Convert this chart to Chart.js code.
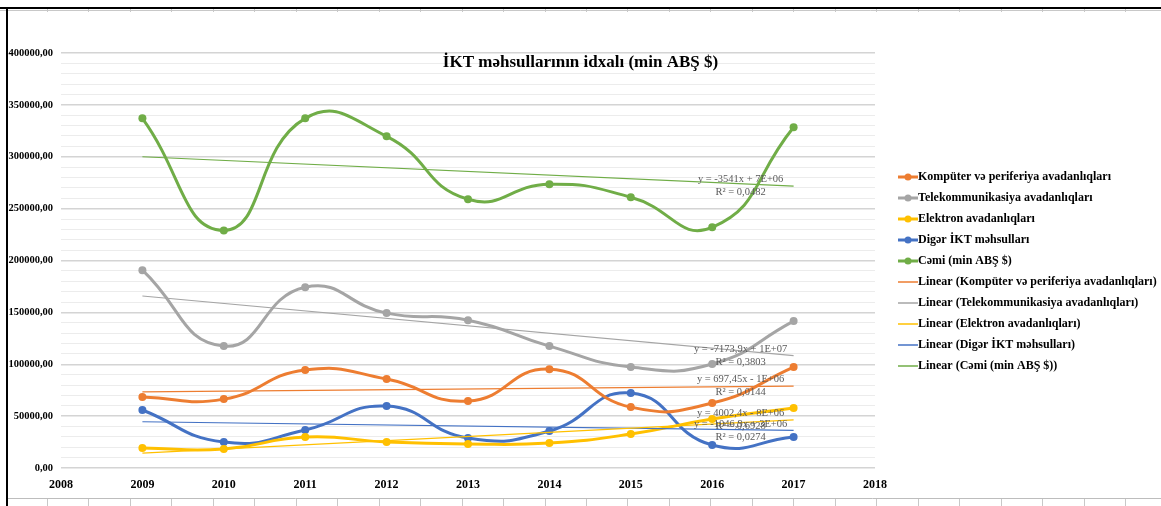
<!DOCTYPE html>
<html><head><meta charset="utf-8">
<script src="https://cdn.jsdelivr.net/npm/chart.js@4.4.1/dist/chart.umd.min.js"></script>
<style>html,body{margin:0;padding:0;background:#fff;overflow:hidden}canvas{display:block}</style>
</head><body>
<canvas id="c" width="1161" height="506"></canvas>
<script>
// ---- data ----
const years = [2009, 2010, 2011, 2012, 2013, 2014, 2015, 2016, 2017];
const komputer = [68400, 66400, 94400, 85700, 64500, 95300, 58700, 62600, 97300];
const telekom  = [190700, 117500, 174300, 149300, 142500, 117500, 97300, 100200, 141600];
const elektron = [19300, 18300, 29900, 25000, 23100, 24100, 32700, 47200, 57800];
const diger    = [55900, 25000, 36600, 59700, 28900, 35600, 72200, 22100, 29900];
const cemi     = [337000, 229000, 337000, 319700, 259000, 273500, 261000, 232000, 328400];

const seriesNames = ['Kompüter və periferiya avadanlıqları', 'Telekommunikasiya avadanlıqları',
  'Elektron avadanlıqları', 'Digər İKT məhsulları', 'Cəmi (min ABŞ $)'];
const trendNames = seriesNames.map(n => 'Linear (' + n + ')');

// linear trendline end points (read at 2009 and 2017)
const trendYears = [2009, 2017];
const trendKomputer = [73300, 78900];
const trendTelekom  = [165800, 108400];
const trendElektron = [14300, 46300];
const trendDiger    = [44600, 36200];
const trendCemi     = [300000, 271700];

const trendEquations = [
  ['y = 697,45x - 1E+06', 'R² = 0,0144'],
  ['y = -7173,9x + 1E+07', 'R² = 0,3803'],
  ['y = 4002,4x - 8E+06', 'R² = 0,6928'],
  ['y = -1046,9x + 3E+06', 'R² = 0,0274'],
  ['y = -3541x + 7E+06', 'R² = 0,0482']
];

const xTicks = [2008, 2018, 1];          // min, max, step
const yTicks = [0, 400000, 10000, 50000]; // min, max, minor step, labelled step
const titleText = 'İKT məhsullarının idxalı (min ABŞ $)';

// ---- styling ----
const colors = ['#ED7D31', '#A5A5A5', '#FFC000', '#4472C4', '#70AD47'];
const seriesData = [komputer, telekom, elektron, diger, cemi];
const trendData = [trendKomputer, trendTelekom, trendElektron, trendDiger, trendCemi];
const serifFont = "'Liberation Serif', 'Times New Roman', serif";

function legendSymbol(color, withMarker, lw) {
  const c = document.createElement('canvas');
  c.width = 40; c.height = 12;
  const g = c.getContext('2d');
  g.strokeStyle = color; g.lineWidth = lw;
  g.beginPath(); g.moveTo(20, 6); g.lineTo(40, 6); g.stroke();
  if (withMarker) { g.fillStyle = color; g.beginPath(); g.arc(30, 6, 3.5, 0, Math.PI * 2); g.fill(); }
  return c;
}

const datasets = [];
seriesData.forEach((arr, i) => {
  datasets.push({
    label: seriesNames[i],
    data: years.map((y, k) => ({x: y, y: arr[k]})),
    showLine: true, tension: 0.5,
    borderColor: colors[i], backgroundColor: colors[i],
    pointBackgroundColor: colors[i], pointBorderColor: colors[i],
    borderWidth: 3, pointRadius: 4, pointBorderWidth: 0,
    order: 1
  });
});
trendData.forEach((arr, i) => {
  datasets.push({
    label: trendNames[i],
    data: trendYears.map((y, k) => ({x: y, y: arr[k]})),
    showLine: true, tension: 0,
    borderColor: colors[i], backgroundColor: colors[i],
    borderWidth: 1.2, pointRadius: 0,
    order: 0
  });
});

const framePlugin = {
  id: 'frame',
  beforeDraw(chart) {
    const {ctx, width, height} = chart;
    ctx.save();
    ctx.fillStyle = '#fff'; ctx.fillRect(0, 0, width, height);
    ctx.strokeStyle = '#c8c8c8'; ctx.lineWidth = 1;
    for (let x = 47; x < width; x += 41.46) {
      const px = Math.round(x) + 0.5;
      ctx.beginPath(); ctx.moveTo(px, 9); ctx.lineTo(px, 12); ctx.stroke();
      ctx.beginPath(); ctx.moveTo(px, 498); ctx.lineTo(px, height); ctx.stroke();
    }
    ctx.beginPath(); ctx.moveTo(0, 10.5); ctx.lineTo(width, 10.5); ctx.stroke();
    ctx.strokeStyle = '#bdbdbd';
    ctx.beginPath(); ctx.moveTo(7, 498.5); ctx.lineTo(width, 498.5); ctx.stroke();
    ctx.fillStyle = '#000';
    ctx.fillRect(0, 7, width, 2);
    ctx.fillRect(6, 7, 2, height - 7);
    ctx.restore();
  }
};

const trendLabelPlugin = {
  id: 'trendLabels',
  afterDatasetsDraw(chart) {
    const {ctx, scales} = chart;
    ctx.save();
    ctx.font = '10.5px ' + serifFont;
    ctx.fillStyle = '#595959';
    ctx.textAlign = 'center'; ctx.textBaseline = 'middle';
    trendData.forEach((arr, i) => {
      const xc = scales.x.getPixelForValue(trendYears[1]) - 53;
      const yc = scales.y.getPixelForValue(arr[1]);
      ctx.fillText(trendEquations[i][0], xc, yc - 6.5);
      ctx.fillText(trendEquations[i][1], xc, yc + 6.5);
    });
    ctx.restore();
  }
};

const legendPlacePlugin = {
  id: 'legendPlace',
  afterLayout(chart) {
    const L = chart.legend;
    if (!L) return;
    L.top = chart.chartArea.top + 109;
    L.height = 240;
    L.bottom = L.top + L.height;
  }
};

new Chart(document.getElementById('c'), {
  type: 'scatter',
  data: {datasets},
  plugins: [framePlugin, trendLabelPlugin, legendPlacePlugin],
  options: {
    responsive: false, animation: false, devicePixelRatio: 1,
    layout: {padding: 0},
    plugins: {
      tooltip: {enabled: false},
      title: {
        display: true, text: titleText, color: '#000',
        font: {family: serifFont, size: 17, weight: 'bold'},
        padding: {top: 52.8, bottom: -20.2}
      },
      legend: {
        position: 'right', align: 'start', maxWidth: 286,
        labels: {
          usePointStyle: true, pointStyleWidth: 28, padding: 9,
          color: '#000', font: {family: serifFont, size: 12, weight: 'bold'},
          generateLabels(chart) {
            const items = Chart.defaults.plugins.legend.labels.generateLabels(chart);
            items.sort((a, b) => a.datasetIndex - b.datasetIndex);
            items.forEach(it => {
              const di = it.datasetIndex;
              const isSeries = di < seriesData.length;
              it.pointStyle = legendSymbol(colors[di % seriesData.length], isSeries, isSeries ? 3 : 1.5);
            });
            return items;
          }
        }
      }
    },
    scales: {
      x: {
        type: 'linear', min: xTicks[0], max: xTicks[1],
        grid: {display: false, drawTicks: false},
        border: {display: false},
        ticks: {stepSize: xTicks[2], padding: 10, color: '#000',
          font: {family: serifFont, size: 12, weight: 'bold'},
          callback: v => String(v)},
        afterFit(s) { s.height = 38; }
      },
      y: {
        min: yTicks[0], max: yTicks[1],
        grid: {drawTicks: false,
          color: c => (c.tick && c.tick.value % yTicks[3] === 0) ? '#d4d4d4' : '#ececec',
          lineWidth: c => (c.tick && c.tick.value % yTicks[3] === 0) ? 1.5 : 1},
        border: {display: false},
        ticks: {stepSize: yTicks[2], autoSkip: false, padding: 8, color: '#000',
          font: {family: serifFont, size: 10.5, weight: 'bold'},
          callback: v => (v % yTicks[3] === 0) ? v.toFixed(2).replace('.', ',') : ''},
        afterFit(s) { s.width = 61; }
      }
    }
  }
});
</script>
</body></html>
